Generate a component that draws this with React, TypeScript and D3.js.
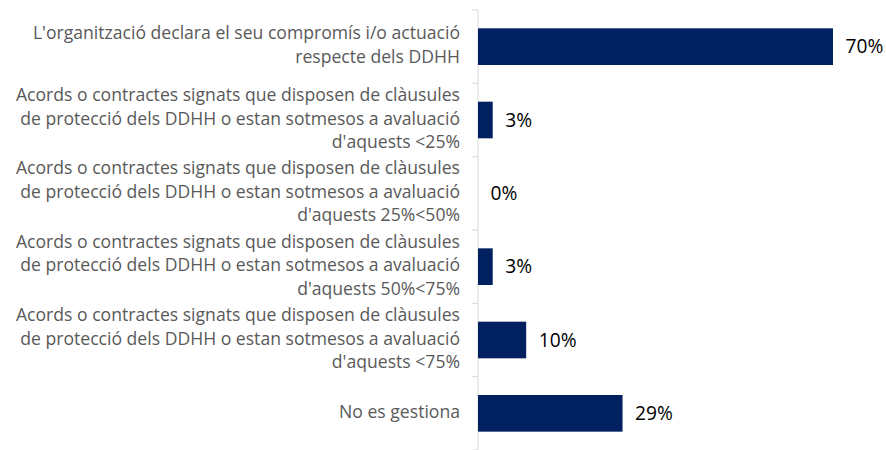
import * as d3 from 'd3';

const categories: string[][] = [
  ["L'organització declara el seu compromís i/o actuació", 'respecte dels DDHH'],
  [
    'Acords o contractes signats que disposen de clàusules',
    'de protecció dels DDHH o estan sotmesos a avaluació',
    "d'aquests <25%",
  ],
  [
    'Acords o contractes signats que disposen de clàusules',
    'de protecció dels DDHH o estan sotmesos a avaluació',
    "d'aquests 25%<50%",
  ],
  [
    'Acords o contractes signats que disposen de clàusules',
    'de protecció dels DDHH o estan sotmesos a avaluació',
    "d'aquests 50%<75%",
  ],
  [
    'Acords o contractes signats que disposen de clàusules',
    'de protecció dels DDHH o estan sotmesos a avaluació',
    "d'aquests <75%",
  ],
  ['No es gestiona'],
];

const values = [70, 2.9, 0, 2.9, 9.5, 28.5];

export default function App() {
  const width = 886;
  const height = 450;
  const axisX = 478;
  const top = 10;
  const bottom = 450;
  const lineHeight = 23.4;
  const font = "'Open Sans', sans-serif";

  const ids = categories.map((_, i) => i.toString());

  // Y scale (categories)
  const y = d3.scaleBand().domain(ids).range([top, bottom]).paddingInner(0.5).paddingOuter(0.25);

  // X scale (percent)
  const x = d3.scaleLinear().domain([0, 70]).range([axisX, 833]);

  return (
    <svg
      width={width}
      height={height}
      style={{ position: 'absolute', left: 0, top: 0, background: '#fff' }}
      fontFamily={font}
    >
      {/* Y Axis */}
      <line x1={axisX} x2={axisX} y1={top} y2={bottom} stroke="#d9d9d9" strokeWidth={1} />
      {d3.range(ids.length + 1).map((k) => (
        <line
          key={k}
          x1={axisX - 6}
          x2={axisX}
          y1={top + k * y.step()}
          y2={top + k * y.step()}
          stroke="#d9d9d9"
        />
      ))}
      {categories.map((lines, i) => {
        const cy = y(i.toString())! + y.bandwidth() / 2;
        const first = cy - ((lines.length - 1) * lineHeight) / 2 + 4.5;
        return (
          <g key={i}>
            <text textAnchor="end" fontSize={17.6} fill="#595959">
              {lines.map((l, j) => (
                <tspan key={j} x={460} y={first + j * lineHeight}>
                  {l}
                </tspan>
              ))}
            </text>
            {/* Bars */}
            <rect
              x={x(0)}
              y={y(i.toString())!}
              width={x(values[i]) - x(0)}
              height={y.bandwidth()}
              fill="#002060"
            />
            <text x={x(values[i]) + 12.5} y={cy + 6.5} fontSize={19.2} fill="#000">
              {Math.round(values[i])}%
            </text>
          </g>
        );
      })}
    </svg>
  );
}
